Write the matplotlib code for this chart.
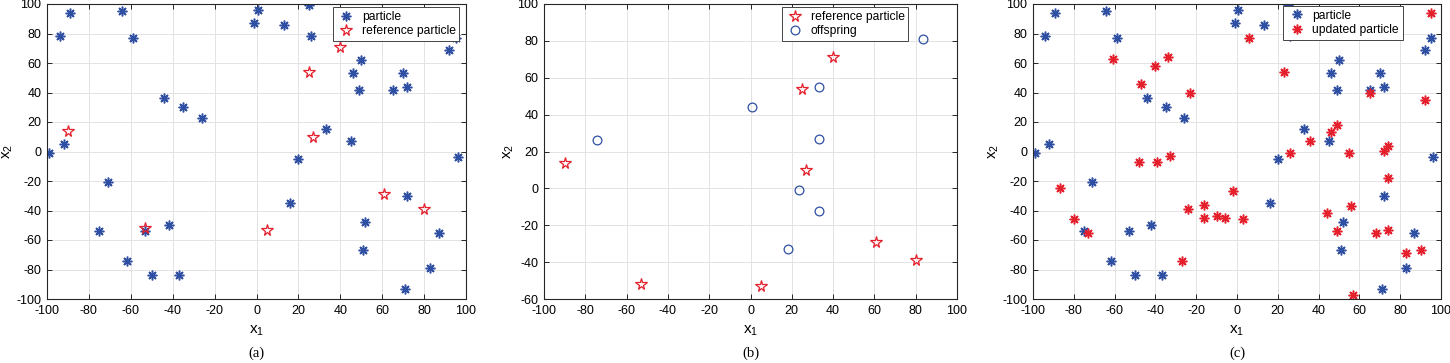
import numpy as np
import matplotlib
matplotlib.use("Agg")
import matplotlib.pyplot as plt

plt.rcParams['font.family'] = ['Liberation Sans', 'DejaVu Sans']
plt.rcParams['axes.unicode_minus'] = False

# particle swarm (blue asterisks, panels a and c)
particle_x = [-94, -89, -64, -59, -44, -35, -26, -92, -99, 0.6,
              -1, 25, 13, 26, 50, 46, 49, 65, 70, 72,
              92, 33, 45, 20, 96, -71, -75, -53, -42, -62,
              -50, -37, 16, 72, 52, 87, 51, 83, 71, 95]
particle_y = [78, 94, 95, 77, 36, 30, 23, 5, -1, 96,
              87, 99, 86, 78, 62, 53, 42, 42, 53, 44,
              69, 15, 7, -5, -4, -21, -54, -54, -50, -74,
              -84, -84, -35, -30, -48, -55, -67, -79, -93, 77]

# reference particles (red pentagrams, panels a and b)
ref_x = [-90, -53, 5, 25, 27, 40, 61, 80]
ref_y = [14, -52, -53, 54, 10, 71, -29, -39]

# offspring (blue circles, panel b)
offspring_x = [83.5, 33, 0.5, -74.5, 33, 23.5, 33, 18]
offspring_y = [81, 55, 44, 26, 27, -0.7, -12, -33]

# updated particles (red asterisks, panel c)
updated_x = [-61, -47, -40, -34, -23, -48, -39, -33, 6, 23,
             65, 92, 95, 49, 46, 36, 26, 55, 72, 74,
             74, -87, -80, -73, -27, -24, -16, -16, -10, -6,
             -2, 3, 44, 56, 49, 68, 74, 83, 90, 57]
updated_y = [63, 46, 58, 64, 40, -7, -7, -3, 77, 54,
             40, 35, 94, 18, 13, 7, -1, -1, 0.5, 4,
             -18, -25, -46, -55, -74, -39, -36, -45, -44, -45,
             -27, -46, -42, -37, -54, -55, -53, -69, -67, -97]

BLUE = '#2f4fa3'
RED = '#e3202c'
ASTER = (8, 2, 0)

W, H = 1450, 363
fig = plt.figure(figsize=(W / 100, H / 100), dpi=100)

def px_axes(l, r, t, b):
    return fig.add_axes([l / W, (H - b) / H, (r - l) / W, (b - t) / H])

def style(ax, ylim):
    ax.set_xlim(-100, 100)
    ax.set_ylim(*ylim)
    ax.set_xticks(np.arange(-100, 101, 20))
    ax.set_yticks(np.arange(ylim[0], ylim[1] + 1, 20))
    ax.grid(True, color='#e3e3e3', lw=0.7)
    ax.set_axisbelow(True)
    ax.tick_params(direction='in', top=True, right=True, length=3.5,
                   width=0.7, labelsize=9, color='#262626', pad=4)
    for s in ax.spines.values():
        s.set_color('#262626')
        s.set_linewidth(0.8)
    ax.set_xlabel(r'$\mathregular{x_1}$', fontsize=11, labelpad=5)
    ax.set_ylabel(r'$\mathregular{x_2}$', fontsize=11, labelpad=1)

def leg(ax, xr, yt):
    lg = ax.legend(loc='upper right', bbox_to_anchor=(xr, yt), fontsize=8.7,
                   frameon=True, fancybox=False, borderpad=0.3,
                   labelspacing=0.2, handletextpad=0.5, handlelength=1.6,
                   borderaxespad=0, framealpha=1)
    lg.get_frame().set_edgecolor('#444444')
    lg.get_frame().set_linewidth(0.7)

# (a)
ax = px_axes(47, 466, 4, 299)
ax.plot(particle_x, particle_y, ls='none', marker=ASTER, ms=7, mew=1.1,
        color=BLUE, label='particle')
ax.plot(ref_x, ref_y, ls='none', marker='*', ms=8.5, mew=0.9, mfc='none',
        color=RED, label='reference particle')
style(ax, (-100, 100))
leg(ax, 0.984, 0.989)
ax.text(0.5, -0.185, '(a)', transform=ax.transAxes, ha='center', va='center',
        fontsize=10.5, family='Liberation Serif')

# (b)
ax = px_axes(544, 957, 4, 299)
ax.plot(ref_x, ref_y, ls='none', marker='*', ms=8.5, mew=0.9, mfc='none',
        color=RED, label='reference particle')
ax.plot(offspring_x, offspring_y, ls='none', marker='o', ms=6.3, mew=0.9,
        mfc='none', color=BLUE, label='offspring')
style(ax, (-60, 100))
leg(ax, 0.882, 0.989)
ax.text(0.5, -0.185, '(b)', transform=ax.transAxes, ha='center', va='center',
        fontsize=10.5, family='Liberation Serif')

# (c)
ax = px_axes(1033, 1441, 4, 299)
ax.plot(particle_x, particle_y, ls='none', marker=ASTER, ms=7, mew=1.1,
        color=BLUE, label='particle')
ax.plot(updated_x, updated_y, ls='none', marker=ASTER, ms=7, mew=1.1,
        color=RED, label='updated particle')
style(ax, (-100, 100))
leg(ax, 0.906, 0.993)
ax.text(0.5, -0.185, '(c)', transform=ax.transAxes, ha='center', va='center',
        fontsize=10.5, family='Liberation Serif')

fig.savefig('out.png', dpi=100)
